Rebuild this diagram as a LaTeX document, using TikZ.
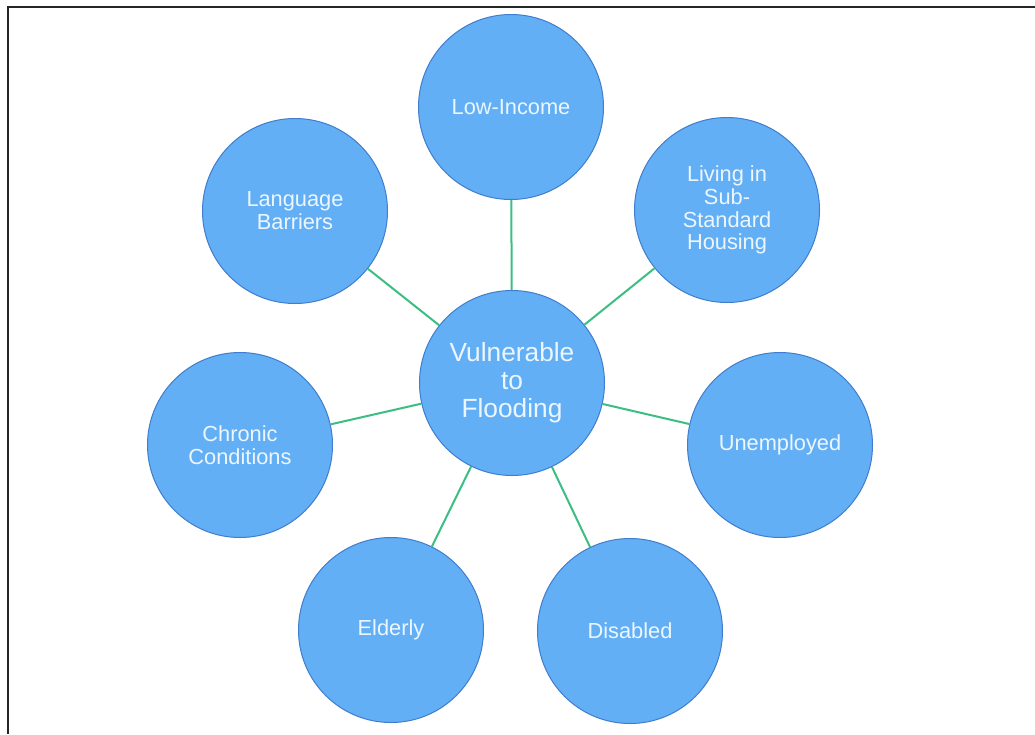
\documentclass[tikz,border=0pt]{standalone}
\usepackage{fontspec}
\setmainfont{Liberation Sans}
\definecolor{bubblefill}{RGB}{99,175,246}
\definecolor{bubbleedge}{RGB}{64,125,205}
\definecolor{bubbletext}{RGB}{236,246,255}
\definecolor{linkgreen}{RGB}{60,190,130}
\tikzset{
  bubble/.style={circle, fill=bubblefill, draw=bubbleedge, line width=1pt,
    minimum size=185pt, inner sep=0pt, text=bubbletext, align=center,
    font=\fontsize{21.8}{22.8}\selectfont},
  hub/.style={bubble, font=\fontsize{26.3}{28}\selectfont},
  link/.style={draw=linkgreen, line width=2pt},
  frameline/.style={draw=black!85, line width=2.5pt}
}
\begin{document}
\begin{tikzpicture}[x=1pt,y=-1pt]
\useasboundingbox (0,0) rectangle (1035,734);
\fill[white] (0,0) rectangle (1035,734);
\coordinate (fa) at (8,734);
\coordinate (fb) at (8,7);
\coordinate (fc) at (1035,7);
\draw[frameline] (fa) -- (fb) -- (fc);

\node[hub] (hub) at (512,383) {Vulnerable\\to\\Flooding};
\node[bubble] (low) at (511,107) {Low-Income};
\node[bubble] (house) at (727,210) {Living in\\Sub-\\Standard\\Housing};
\node[bubble] (unemp) at (780,445) {Unemployed};
\node[bubble] (dis) at (630,631) {Disabled};
\node[bubble] (eld) at (391,630) {Elderly};
\node[bubble] (chron) at (240,445) {Chronic\\Conditions};
\node[bubble] (lang) at (295,211) {Language\\Barriers};

\foreach \n in {low,house,unemp,dis,eld,chron,lang}
  \path[link] (hub) -- (\n);
\end{tikzpicture}
\end{document}
